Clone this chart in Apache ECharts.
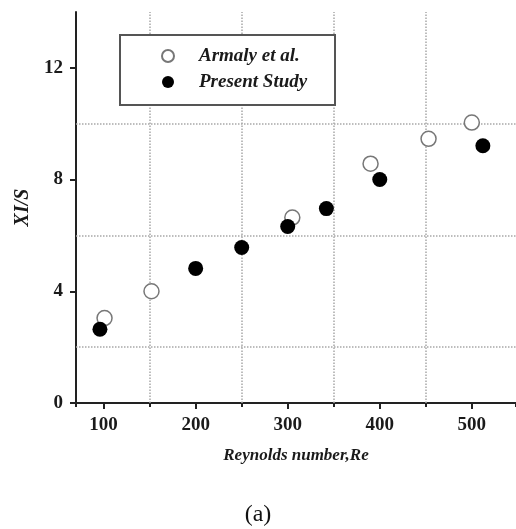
<!DOCTYPE html>
<html>
<head>
<meta charset="utf-8">
<script src="https://cdn.jsdelivr.net/npm/echarts@6/dist/echarts.min.js"></script>
<style>
html,body{margin:0;padding:0;background:#fff;}
#chart{width:516px;height:529px;}
</style>
</head>
<body>
<div id="chart"></div>
<script>
// Data
var armalyRe = [101, 152, 305, 390, 453, 500];
var armalyXS = [3.04, 4.0, 6.64, 8.57, 9.46, 10.04];
var presentRe = [96, 200, 250, 300, 342, 400, 512];
var presentXS = [2.64, 4.82, 5.57, 6.32, 6.96, 8.0, 9.21];
var seriesNames = ['Armaly et al.', 'Present Study'];
var xGridValues = [150, 250, 350, 450];
var yGridValues = [2, 6, 10];

function pairs(xs, ys) { return xs.map(function (x, i) { return [x, ys[i]]; }); }

var FONT = 'Liberation Serif';
var chart = echarts.init(document.getElementById('chart'), null, {renderer: 'canvas'});

var gridMarks = xGridValues.map(function (v) { return {xAxis: v}; })
  .concat(yGridValues.map(function (v) { return {yAxis: v}; }));

chart.setOption({
  animation: false,
  backgroundColor: '#fff',
  grid: {left: 76, top: 12, width: 440, height: 391, containLabel: false},
  xAxis: [{
    type: 'value', min: 70, max: 548, splitNumber: 5, position: 'bottom', offset: 0,
    axisLine: {show: true, onZero: false, lineStyle: {color: '#222', width: 2}},
    axisTick: {show: true, inside: false, length: 6, lineStyle: {color: '#222', width: 2}},
    axisLabel: {show: true, margin: 13, showMinLabel: false, showMaxLabel: false,
      fontFamily: FONT, fontWeight: 'bold', fontSize: 19, color: '#1a1a1a'},
    splitLine: {show: false},
    name: 'Reynolds number,Re', nameLocation: 'middle', nameGap: 44,
    nameTextStyle: {fontFamily: FONT, fontWeight: 'bold', fontStyle: 'italic', fontSize: 17, color: '#1a1a1a'}
  }, {
    type: 'value', min: 70, max: 548, splitNumber: 10, position: 'bottom', offset: 0,
    axisLine: {show: false},
    axisTick: {show: true, inside: false, length: 4, lineStyle: {color: '#222', width: 2}},
    axisLabel: {show: false},
    splitLine: {show: false}
  }],
  yAxis: {
    type: 'value', min: 0, max: 14, interval: 4,
    axisLine: {show: true, onZero: false, lineStyle: {color: '#222', width: 2}},
    axisTick: {show: true, inside: false, length: 6, lineStyle: {color: '#222', width: 2}},
    axisLabel: {show: true, margin: 13, showMaxLabel: false,
      fontFamily: FONT, fontWeight: 'bold', fontSize: 19, color: '#1a1a1a'},
    splitLine: {show: false},
    name: 'XI/S', nameLocation: 'middle', nameGap: 40,
    nameTextStyle: {fontFamily: FONT, fontWeight: 'bold', fontStyle: 'italic', fontSize: 20, color: '#1a1a1a'}
  },
  legend: {
    show: true, orient: 'vertical', left: 161, top: 46, padding: 0, z: 20,
    itemWidth: 12, itemHeight: 12, itemGap: 6,
    data: seriesNames,
    textStyle: {fontFamily: FONT, fontWeight: 'bold', fontStyle: 'italic', fontSize: 19,
      color: '#1a1a1a', lineHeight: 20, padding: [0, 0, 0, 20]}
  },
  graphic: [{
    type: 'rect', z: 15, left: 119, top: 34,
    shape: {width: 215, height: 70},
    style: {fill: '#fff', stroke: '#555', lineWidth: 2}
  }, {
    type: 'text', z: 15, left: 'center', top: 503,
    style: {text: '(a)', fontFamily: FONT, fontSize: 24, fill: '#111'}
  }],
  series: [{
    type: 'scatter', name: 'gridlines', z: 1, data: [], silent: true,
    markLine: {silent: true, symbol: 'none', label: {show: false}, z: 1,
      lineStyle: {type: 'dotted', color: '#a8a8a8', width: 1.5}, data: gridMarks}
  }, {
    type: 'scatter', name: seriesNames[0], z: 8, symbol: 'circle', symbolSize: 15,
    itemStyle: {color: '#fff', borderColor: '#777', borderWidth: 1.5, opacity: 1},
    data: pairs(armalyRe, armalyXS)
  }, {
    type: 'scatter', name: seriesNames[1], z: 9, symbol: 'circle', symbolSize: 15,
    itemStyle: {color: '#000', opacity: 1},
    data: pairs(presentRe, presentXS)
  }]
});
</script>
</body>
</html>
